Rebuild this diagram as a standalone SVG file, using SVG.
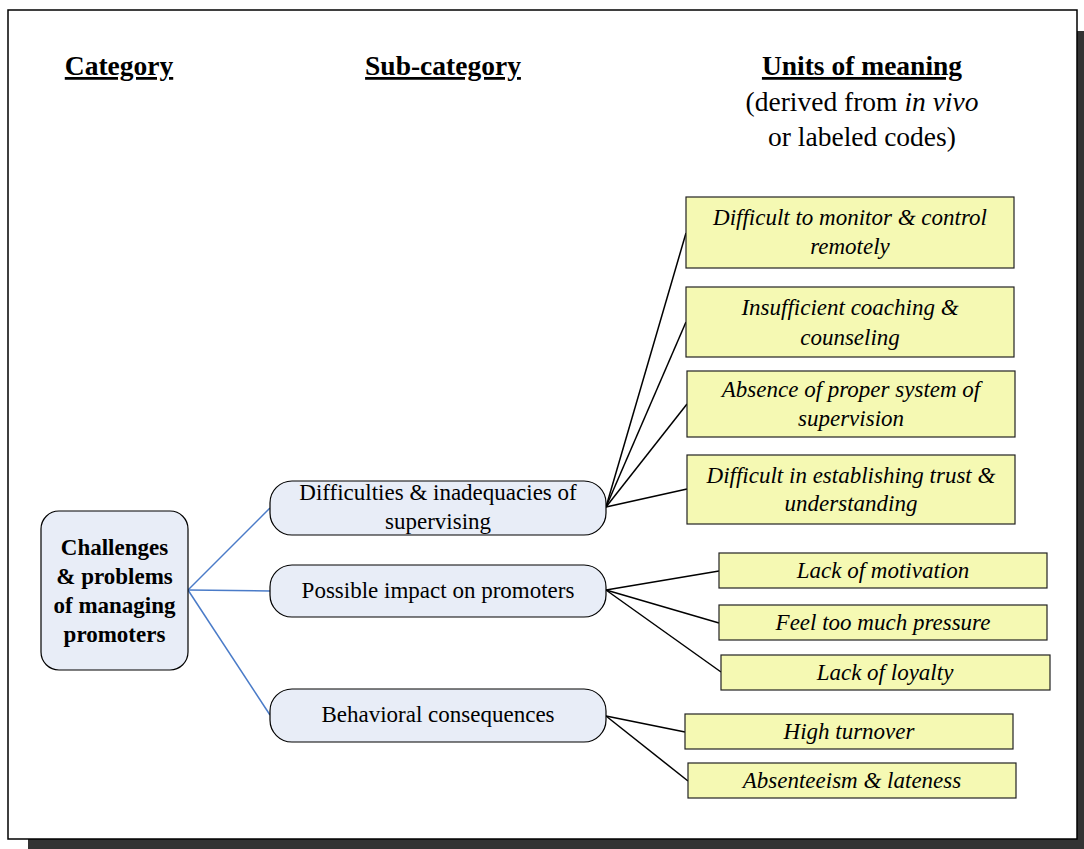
<svg xmlns="http://www.w3.org/2000/svg" width="1084" height="849" viewBox="0 0 1084 849">
<style>
.hdr{font-family:"Liberation Serif",serif;font-size:27.5px;font-weight:bold;text-decoration:underline;text-anchor:middle;fill:#000}
.sub{font-family:"Liberation Serif",serif;font-size:27.5px;text-anchor:middle;fill:#000}
.cat{fill:#e8edf7;stroke:#000;stroke-width:1.2}
.catt{font-family:"Liberation Serif",serif;font-size:23px;font-weight:bold;text-anchor:middle;fill:#000}
.sc{fill:#e8edf7;stroke:#000;stroke-width:1.2}
.sct{font-family:"Liberation Serif",serif;font-size:23px;text-anchor:middle;fill:#000}
.u{fill:#f5f9b3;stroke:#222;stroke-width:1.2}
.ut{font-family:"Liberation Serif",serif;font-size:23px;font-style:italic;text-anchor:middle;fill:#000}
.bl{stroke:#4a7bc8;stroke-width:1.5;fill:none}
.bk{stroke:#000;stroke-width:1.5;fill:none}
</style>
<rect x="0" y="0" width="1084" height="849" fill="#fff"/>
<rect x="28" y="31" width="1056" height="818" fill="#333"/>
<rect x="8" y="10" width="1069" height="829" fill="#fff" stroke="#000" stroke-width="1.5"/>
<g id="headers">
<text class="hdr" x="119" y="75">Category</text>
<text class="hdr" x="443" y="75">Sub-category</text>
<text class="hdr" x="862" y="75">Units of meaning</text>
<text class="sub" x="862" y="111">(derived from <tspan font-style="italic">in vivo</tspan></text>
<text class="sub" x="862" y="146">or labeled codes)</text>
</g>
<g id="connectors">
<line class="bl" x1="188" y1="590" x2="270" y2="508"/>
<line class="bl" x1="188" y1="590" x2="270" y2="591"/>
<line class="bl" x1="188" y1="590" x2="270" y2="715"/>
<line class="bk" x1="606" y1="507" x2="686" y2="233"/>
<line class="bk" x1="606" y1="507" x2="686" y2="322"/>
<line class="bk" x1="606" y1="507" x2="687" y2="404"/>
<line class="bk" x1="606" y1="507" x2="687" y2="489"/>
<line class="bk" x1="606" y1="590" x2="719" y2="571"/>
<line class="bk" x1="606" y1="590" x2="719" y2="623"/>
<line class="bk" x1="606" y1="590" x2="721" y2="672"/>
<line class="bk" x1="606" y1="716" x2="685" y2="732"/>
<line class="bk" x1="606" y1="716" x2="688" y2="781"/>
</g>
<g id="cat">
<rect class="cat" x="41" y="511" width="147" height="159" rx="18"/>
<text class="catt" x="114.5" y="555">Challenges</text>
<text class="catt" x="114.5" y="584">&amp; problems</text>
<text class="catt" x="114.5" y="613">of managing</text>
<text class="catt" x="114.5" y="642">promoters</text>
</g>
<g id="sub1">
<rect class="sc" x="270" y="481" width="336" height="54" rx="22"/>
<text class="sct" x="438" y="500">Difficulties &amp; inadequacies of</text>
<text class="sct" x="438" y="529">supervising</text>
</g>
<g id="sub2">
<rect class="sc" x="270" y="565" width="336" height="52" rx="22"/>
<text class="sct" x="438" y="598">Possible impact on promoters</text>
</g>
<g id="sub3">
<rect class="sc" x="270" y="689" width="336" height="53" rx="22"/>
<text class="sct" x="438" y="722">Behavioral consequences</text>
</g>
<g id="u1">
<rect class="u" x="686" y="197" width="328" height="71"/>
<text class="ut" x="850" y="225">Difficult to monitor &amp; control</text>
<text class="ut" x="850" y="254">remotely</text>
</g>
<g id="u2">
<rect class="u" x="686" y="287" width="328" height="70"/>
<text class="ut" x="850" y="315">Insufficient coaching &amp;</text>
<text class="ut" x="850" y="345">counseling</text>
</g>
<g id="u3">
<rect class="u" x="687" y="371" width="328" height="66"/>
<text class="ut" x="851" y="397">Absence of proper system of</text>
<text class="ut" x="851" y="426">supervision</text>
</g>
<g id="u4">
<rect class="u" x="687" y="455" width="328" height="69"/>
<text class="ut" x="851" y="483">Difficult in establishing trust &amp;</text>
<text class="ut" x="851" y="511">understanding</text>
</g>
<g id="u5">
<rect class="u" x="719" y="553" width="328" height="35"/>
<text class="ut" x="883" y="578">Lack of motivation</text>
</g>
<g id="u6">
<rect class="u" x="719" y="605" width="328" height="35"/>
<text class="ut" x="883" y="630">Feel too much pressure</text>
</g>
<g id="u7">
<rect class="u" x="721" y="655" width="329" height="35"/>
<text class="ut" x="885" y="680">Lack of loyalty</text>
</g>
<g id="u8">
<rect class="u" x="685" y="714" width="328" height="35"/>
<text class="ut" x="849" y="739">High turnover</text>
</g>
<g id="u9">
<rect class="u" x="688" y="763" width="328" height="35"/>
<text class="ut" x="852" y="788">Absenteeism &amp; lateness</text>
</g>
</svg>
